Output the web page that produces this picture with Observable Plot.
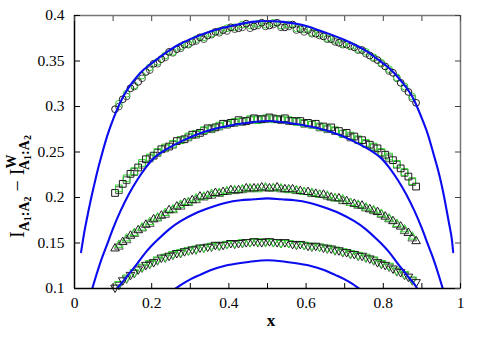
<!DOCTYPE html>
<html><head><meta charset="utf-8">
<script src="https://cdn.jsdelivr.net/npm/d3@7"></script>
<script src="https://cdn.jsdelivr.net/npm/@observablehq/plot@0.6"></script>
<style>body{margin:0;background:#fff} #chart{width:482px;height:339px} svg text{font-family:"Liberation Serif","Times New Roman",Times,serif !important}</style>
</head><body><div id="chart"></div>
<script>
// tick values and labels
const xTicksMinor = [0,0.1,0.2,0.3,0.4,0.5,0.6,0.7,0.8,0.9,1];
const xTickValues = [0,0.2,0.4,0.6,0.8,1];
const xTickLabels = ["0","0.2","0.4","0.6","0.8","1"];
const yTickValues = [0.1,0.15,0.2,0.25,0.3,0.35,0.4];
const yTickLabels = ["0.1","0.15","0.2","0.25","0.3","0.35","0.4"];

// x positions of the data points
const xBlack = [0.105,0.125,0.145,0.165,0.185,0.205,0.225,0.245,0.265,0.285,0.305,0.325,0.345,0.365,0.385,0.405,0.425,0.445,0.465,0.485,0.505,0.525,0.545,0.565,0.585,0.605,0.625,0.645,0.665,0.685,0.705,0.725,0.745,0.765,0.785,0.805,0.825,0.845,0.865,0.885];
const xGreen = [0.115,0.135,0.155,0.175,0.195,0.215,0.235,0.255,0.275,0.295,0.315,0.335,0.355,0.375,0.395,0.415,0.435,0.455,0.475,0.495,0.515,0.535,0.555,0.575,0.595,0.615,0.635,0.655,0.675,0.695,0.715,0.735,0.755,0.775,0.795,0.815,0.835,0.855,0.875];

// circles
const circBlack = [0.297,0.308,0.320,0.327,0.338,0.347,0.352,0.360,0.363,0.368,0.371,0.376,0.378,0.382,0.384,0.387,0.386,0.391,0.388,0.392,0.389,0.392,0.387,0.390,0.385,0.384,0.380,0.377,0.374,0.370,0.368,0.365,0.362,0.356,0.351,0.344,0.337,0.326,0.316,0.304];
const circBlack2 = [0.300,0.311,0.322,0.331,0.340,0.347,0.354,0.359,0.364,0.368,0.372,0.374,0.379,0.381,0.383,0.385,0.387,0.386,0.389,0.388,0.390,0.387,0.388,0.384,0.382,0.380,0.378,0.374,0.371,0.368,0.366,0.362,0.358,0.353,0.347,0.339,0.331,0.320,0.309];
const circGreen = [0.303,0.314,0.323,0.334,0.343,0.349,0.356,0.360,0.366,0.369,0.374,0.376,0.380,0.383,0.386,0.387,0.390,0.389,0.391,0.390,0.392,0.389,0.390,0.386,0.385,0.381,0.380,0.375,0.373,0.369,0.367,0.363,0.360,0.354,0.348,0.341,0.332,0.322,0.311];
// squares
const sqBlack = [0.205,0.215,0.226,0.233,0.242,0.246,0.253,0.256,0.262,0.264,0.269,0.271,0.276,0.277,0.281,0.282,0.285,0.284,0.287,0.286,0.288,0.286,0.287,0.284,0.284,0.282,0.281,0.278,0.277,0.273,0.271,0.267,0.263,0.258,0.254,0.247,0.241,0.232,0.223,0.212];
const sqBlack2 = [0.208,0.219,0.228,0.236,0.243,0.249,0.254,0.258,0.263,0.266,0.269,0.273,0.275,0.278,0.280,0.282,0.283,0.285,0.286,0.286,0.287,0.285,0.284,0.284,0.281,0.280,0.277,0.275,0.273,0.270,0.266,0.263,0.259,0.255,0.249,0.243,0.236,0.227,0.217];
const sqGreen = [0.210,0.221,0.229,0.238,0.244,0.250,0.255,0.259,0.263,0.267,0.270,0.274,0.276,0.279,0.281,0.283,0.284,0.286,0.285,0.287,0.286,0.286,0.285,0.283,0.282,0.280,0.278,0.276,0.274,0.270,0.268,0.264,0.260,0.256,0.250,0.245,0.237,0.228,0.218];
// up triangles
const upBlack = [0.144,0.151,0.158,0.164,0.170,0.176,0.180,0.186,0.190,0.194,0.197,0.201,0.202,0.205,0.206,0.208,0.208,0.210,0.210,0.211,0.210,0.211,0.209,0.209,0.207,0.206,0.204,0.203,0.200,0.199,0.196,0.193,0.191,0.187,0.184,0.179,0.174,0.168,0.161,0.152];
const upBlack2 = [0.146,0.153,0.160,0.166,0.171,0.177,0.181,0.186,0.190,0.194,0.197,0.200,0.202,0.204,0.206,0.207,0.208,0.209,0.210,0.210,0.210,0.209,0.209,0.207,0.206,0.204,0.203,0.201,0.199,0.196,0.194,0.191,0.188,0.185,0.181,0.176,0.170,0.163,0.155];
const upGreen = [0.148,0.155,0.161,0.167,0.173,0.178,0.183,0.187,0.192,0.195,0.199,0.201,0.204,0.205,0.207,0.208,0.209,0.210,0.209,0.211,0.210,0.210,0.208,0.208,0.206,0.205,0.203,0.202,0.199,0.198,0.194,0.192,0.189,0.186,0.182,0.177,0.171,0.165,0.157];
// down triangles
const downBlack = [0.101,0.109,0.115,0.121,0.126,0.129,0.134,0.136,0.139,0.141,0.143,0.145,0.146,0.148,0.148,0.150,0.150,0.151,0.152,0.151,0.152,0.151,0.151,0.149,0.149,0.147,0.147,0.145,0.144,0.142,0.140,0.138,0.136,0.133,0.129,0.126,0.122,0.118,0.113,0.107];
const downBlack2 = [0.104,0.111,0.117,0.123,0.127,0.131,0.134,0.137,0.139,0.142,0.143,0.145,0.146,0.147,0.149,0.149,0.150,0.151,0.151,0.152,0.151,0.150,0.150,0.148,0.148,0.146,0.146,0.144,0.142,0.140,0.138,0.136,0.134,0.131,0.127,0.124,0.119,0.115,0.109];
const downGreen = [0.105,0.112,0.118,0.124,0.128,0.132,0.135,0.138,0.140,0.142,0.144,0.145,0.147,0.148,0.149,0.150,0.151,0.151,0.152,0.151,0.151,0.150,0.150,0.149,0.148,0.147,0.146,0.145,0.143,0.141,0.139,0.137,0.135,0.132,0.128,0.125,0.120,0.116,0.110];

// blue curves
const curveAx = [0.017,0.023,0.029,0.040,0.050,0.060,0.070,0.085,0.102,0.118,0.136,0.153,0.171,0.192,0.214,0.240,0.266,0.300,0.335,0.380,0.421,0.460,0.500,0.540,0.585,0.625,0.665,0.700,0.735,0.760,0.785,0.810,0.830,0.848,0.866,0.882,0.898,0.915,0.930,0.942,0.952,0.961,0.971,0.977,0.981];
const curveAy = [0.140,0.156,0.170,0.193,0.212,0.230,0.246,0.268,0.288,0.304,0.318,0.328,0.337,0.345,0.352,0.360,0.367,0.374,0.380,0.386,0.390,0.393,0.394,0.393,0.390,0.385,0.379,0.373,0.366,0.360,0.352,0.344,0.336,0.327,0.317,0.305,0.289,0.270,0.248,0.230,0.212,0.193,0.170,0.156,0.140];
const curveBx = [0.046,0.056,0.065,0.075,0.085,0.100,0.119,0.140,0.162,0.185,0.205,0.230,0.255,0.283,0.315,0.350,0.390,0.430,0.465,0.500,0.535,0.570,0.610,0.650,0.685,0.717,0.745,0.770,0.795,0.815,0.838,0.860,0.881,0.900,0.915,0.925,0.935,0.944,0.954];
const curveBy = [0.100,0.114,0.126,0.138,0.149,0.166,0.185,0.203,0.219,0.233,0.243,0.251,0.257,0.263,0.269,0.274,0.278,0.281,0.283,0.284,0.283,0.281,0.278,0.274,0.269,0.263,0.257,0.251,0.243,0.233,0.219,0.203,0.185,0.166,0.149,0.138,0.126,0.114,0.100];
const curveCx = [0.110,0.120,0.130,0.145,0.162,0.185,0.214,0.245,0.275,0.315,0.352,0.390,0.430,0.465,0.500,0.535,0.570,0.610,0.648,0.685,0.725,0.755,0.786,0.815,0.838,0.855,0.870,0.880,0.888];
const curveCy = [0.100,0.105,0.110,0.118,0.127,0.140,0.153,0.165,0.174,0.183,0.189,0.194,0.197,0.198,0.199,0.198,0.197,0.194,0.189,0.183,0.174,0.165,0.153,0.140,0.127,0.118,0.110,0.105,0.100];
const curveDx = [0.262,0.280,0.300,0.325,0.352,0.390,0.430,0.465,0.500,0.535,0.570,0.610,0.648,0.675,0.700,0.720,0.737];
const curveDy = [0.100,0.105,0.110,0.115,0.120,0.125,0.128,0.130,0.131,0.130,0.128,0.125,0.120,0.115,0.110,0.105,0.100];

const rows = (xs, ys) => xs.map((x, i) => ({x, y: ys[i]}));
const sqrt3 = Math.sqrt(3);
const triangleDown = {draw(context, size) {
  const y = Math.sqrt(size / (sqrt3 * 3));
  context.moveTo(0, y * 2);
  context.lineTo(-sqrt3 * y, -y);
  context.lineTo(sqrt3 * y, -y);
  context.closePath();
}};

const GREEN = "#2fd42f", BLACK = "#1a1a1a", BLUE = "#0b0bf0";
const dotOpts = (symbol, r, stroke) => ({x: "x", y: "y", symbol, r, stroke, fill: "none", strokeWidth: 1});
const fmt = (vals, labels) => d => { const i = vals.findIndex(v => Math.abs(v - d) < 1e-9); return i < 0 ? "" : labels[i]; };
const lineOpts = {x: "x", y: "y", stroke: BLUE, strokeWidth: 2.1, curve: "natural", clip: true};

const plot = Plot.plot({
  width: 482, height: 339,
  marginLeft: 74, marginRight: 22, marginTop: 15, marginBottom: 51,
  x: {domain: [0, 1]},
  y: {domain: [0.1, 0.4]},
  style: {fontFamily: "Liberation Serif", fontSize: "15px", color: "#000", background: "#fff", overflow: "visible"},
  marks: [
    Plot.dot(rows(xGreen, circBlack2), dotOpts("circle", 3.4, "#555")),
    Plot.dot(rows(xGreen, circGreen), dotOpts("circle", 3.4, GREEN)),
    Plot.dot(rows(xBlack, circBlack), dotOpts("circle", 3.4, BLACK)),
    Plot.dot(rows(xGreen, sqBlack2), dotOpts("square", 3.8, "#555")),
    Plot.dot(rows(xGreen, sqGreen), dotOpts("square", 3.8, GREEN)),
    Plot.dot(rows(xBlack, sqBlack), dotOpts("square", 3.8, BLACK)),
    Plot.dot(rows(xGreen, upBlack2), dotOpts("triangle", 3.2, "#555")),
    Plot.dot(rows(xGreen, upGreen), dotOpts("triangle", 3.2, GREEN)),
    Plot.dot(rows(xBlack, upBlack), dotOpts("triangle", 3.2, BLACK)),
    Plot.dot(rows(xGreen, downBlack2), dotOpts(triangleDown, 3.2, "#555")),
    Plot.dot(rows(xGreen, downGreen), dotOpts(triangleDown, 3.2, GREEN)),
    Plot.dot(rows(xBlack, downBlack), dotOpts(triangleDown, 3.2, BLACK)),
    Plot.line(rows(curveAx, curveAy), lineOpts),
    Plot.line(rows(curveBx, curveBy), lineOpts),
    Plot.line(rows(curveCx, curveCy), lineOpts),
    Plot.line(rows(curveDx, curveDy), lineOpts),
    Plot.ruleY([0.4], {stroke: "#777", strokeWidth: 1.5}),
    Plot.ruleX([1], {stroke: "#777", strokeWidth: 1.5}),
    Plot.ruleY([0.1], {stroke: "#000", strokeWidth: 1.5}),
    Plot.ruleX([0], {stroke: "#000", strokeWidth: 1.5}),
    Plot.axisX({anchor: "bottom", ticks: xTicksMinor, tickSize: -5, tickPadding: 13, tickFormat: fmt(xTickValues, xTickLabels), label: null, stroke: "#000"}),
    Plot.axisX({anchor: "top", ticks: xTicksMinor, tickSize: -5, tickFormat: () => "", label: null, stroke: "#444"}),
    Plot.axisY({anchor: "left", ticks: yTickValues, tickSize: -6, tickPadding: 16, tickFormat: fmt(yTickValues, yTickLabels), label: null, stroke: "#000"}),
    Plot.axisY({anchor: "right", ticks: yTickValues, tickSize: -6, tickFormat: () => "", label: null, stroke: "#444"})
  ]
});
document.getElementById("chart").appendChild(plot);

const svg = d3.select(plot);
svg.selectAll("text").style("font-size", "15.5px");

// axis titles
svg.append("text").attr("x", 271).attr("y", 326).attr("text-anchor", "middle")
  .attr("font-size", 17).attr("font-weight", "bold").attr("fill", "#000").text("x");

const yl = svg.append("text").attr("transform", "translate(24,238) rotate(-90)").attr("text-anchor", "start")
  .attr("font-size", 20).attr("fill", "#000");
yl.append("tspan").text("I");
yl.append("tspan").attr("font-size", 14).attr("font-weight", "bold").attr("dy", 5).text("A");
yl.append("tspan").attr("font-size", 10).attr("font-weight", "bold").attr("dy", 2).text("1");
yl.append("tspan").attr("font-size", 14).attr("font-weight", "bold").attr("dy", -2).text(":A");
yl.append("tspan").attr("font-size", 10).attr("font-weight", "bold").attr("dy", 2).text("2");
yl.append("tspan").attr("dy", -7).text(" − I");
yl.append("tspan").attr("font-size", 14).attr("font-weight", "bold").attr("dy", -8).text("W");
yl.append("tspan").attr("font-size", 14).attr("font-weight", "bold").attr("dx", -14).attr("dy", 13).text("A");
yl.append("tspan").attr("font-size", 10).attr("font-weight", "bold").attr("dy", 2).text("1");
yl.append("tspan").attr("font-size", 14).attr("font-weight", "bold").attr("dy", -2).text(":A");
yl.append("tspan").attr("font-size", 10).attr("font-weight", "bold").attr("dy", 2).text("2");
</script>
</body></html>
